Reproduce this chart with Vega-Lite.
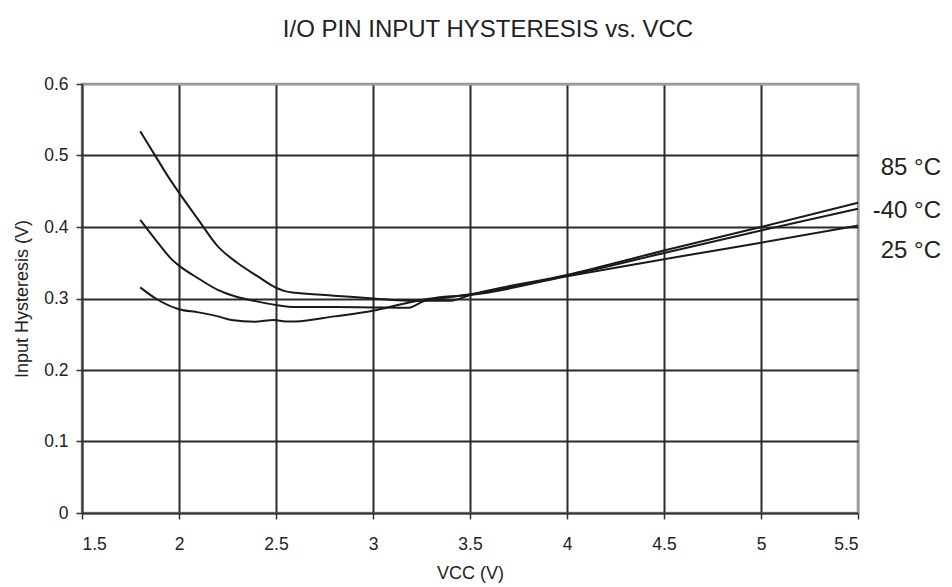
{
  "$schema": "https://vega.github.io/schema/vega-lite/v6.json",
  "width": 776,
  "height": 429,
  "autosize": "none",
  "padding": {"left": 82, "top": 84, "right": 94, "bottom": 74},
  "background": "white",
  "config": {
    "font": "Liberation Sans",
    "view": {"stroke": "#9a9a9a", "strokeWidth": 2.5},
    "axis": {
      "labelFont": "Liberation Sans",
      "titleFont": "Liberation Sans",
      "labelColor": "#222",
      "titleColor": "#222",
      "labelFontSize": 17.5,
      "titleFontSize": 18,
      "titleFontWeight": "normal",
      "domainColor": "#333",
      "domainWidth": 2,
      "tickColor": "#333",
      "tickWidth": 1.5,
      "tickSize": 6,
      "gridWidth": 2
    }
  },
  "title": {
    "text": "I/O PIN INPUT HYSTERESIS vs. VCC",
    "font": "Liberation Sans",
    "fontSize": 24,
    "fontWeight": "normal",
    "color": "#222",
    "anchor": "middle",
    "dx": 18,
    "offset": 33
  },
  "datasets": {
    "curves": [
      {"series": "A", "v": 1.8, "h": 0.534},
      {"series": "A", "v": 1.87, "h": 0.503},
      {"series": "A", "v": 1.95, "h": 0.468},
      {"series": "A", "v": 2.0, "h": 0.448},
      {"series": "A", "v": 2.1, "h": 0.41},
      {"series": "A", "v": 2.2, "h": 0.373},
      {"series": "A", "v": 2.3, "h": 0.35},
      {"series": "A", "v": 2.4, "h": 0.332},
      {"series": "A", "v": 2.5, "h": 0.315},
      {"series": "A", "v": 2.55, "h": 0.31},
      {"series": "A", "v": 2.6, "h": 0.308},
      {"series": "A", "v": 2.8, "h": 0.304},
      {"series": "A", "v": 3.0, "h": 0.3},
      {"series": "A", "v": 3.1, "h": 0.298},
      {"series": "A", "v": 3.2, "h": 0.297},
      {"series": "A", "v": 3.3, "h": 0.297},
      {"series": "A", "v": 3.4, "h": 0.297},
      {"series": "A", "v": 3.5, "h": 0.305},
      {"series": "A", "v": 4.0, "h": 0.333},
      {"series": "A", "v": 4.5, "h": 0.367},
      {"series": "A", "v": 5.0, "h": 0.4},
      {"series": "A", "v": 5.5, "h": 0.434},
      {"series": "B", "v": 1.8, "h": 0.41},
      {"series": "B", "v": 1.9, "h": 0.375},
      {"series": "B", "v": 1.965, "h": 0.354},
      {"series": "B", "v": 2.0, "h": 0.346},
      {"series": "B", "v": 2.1, "h": 0.328},
      {"series": "B", "v": 2.2, "h": 0.312},
      {"series": "B", "v": 2.3, "h": 0.302},
      {"series": "B", "v": 2.4, "h": 0.296},
      {"series": "B", "v": 2.5, "h": 0.291},
      {"series": "B", "v": 2.6, "h": 0.288},
      {"series": "B", "v": 2.8, "h": 0.288},
      {"series": "B", "v": 3.0, "h": 0.2875},
      {"series": "B", "v": 3.18, "h": 0.287},
      {"series": "B", "v": 3.26, "h": 0.296},
      {"series": "B", "v": 3.4, "h": 0.302},
      {"series": "B", "v": 3.5, "h": 0.306},
      {"series": "B", "v": 4.0, "h": 0.332},
      {"series": "B", "v": 4.5, "h": 0.3636},
      {"series": "B", "v": 5.0, "h": 0.395},
      {"series": "B", "v": 5.5, "h": 0.4256},
      {"series": "C", "v": 1.8, "h": 0.3156},
      {"series": "C", "v": 1.88, "h": 0.3},
      {"series": "C", "v": 2.0, "h": 0.285},
      {"series": "C", "v": 2.1, "h": 0.2806},
      {"series": "C", "v": 2.2, "h": 0.275},
      {"series": "C", "v": 2.27, "h": 0.27},
      {"series": "C", "v": 2.39, "h": 0.2676},
      {"series": "C", "v": 2.49, "h": 0.27},
      {"series": "C", "v": 2.55, "h": 0.268},
      {"series": "C", "v": 2.6, "h": 0.268},
      {"series": "C", "v": 2.8, "h": 0.275},
      {"series": "C", "v": 3.0, "h": 0.283},
      {"series": "C", "v": 3.18, "h": 0.294},
      {"series": "C", "v": 3.3, "h": 0.3},
      {"series": "C", "v": 3.4, "h": 0.303},
      {"series": "C", "v": 3.5, "h": 0.305},
      {"series": "C", "v": 4.0, "h": 0.331},
      {"series": "C", "v": 4.5, "h": 0.355},
      {"series": "C", "v": 5.0, "h": 0.378},
      {"series": "C", "v": 5.5, "h": 0.402}
    ],
    "labels": [
      {"label": "85 °C", "v": 5.5, "h": 0.4825},
      {"label": "-40 °C", "v": 5.5, "h": 0.4218},
      {"label": "25 °C", "v": 5.5, "h": 0.3659}
    ]
  },
  "layer": [
    {
      "data": {"name": "curves"},
      "mark": {"type": "line", "color": "#1a1a1a", "strokeWidth": 2, "interpolate": "monotone"},
      "encoding": {
        "x": {
          "field": "v", "type": "quantitative",
          "scale": {"domain": [1.5, 5.5], "nice": false, "zero": false},
          "axis": {
            "title": "VCC (V)",
            "values": [1.5, 2, 2.5, 3, 3.5, 4, 4.5, 5, 5.5],
            "format": "~g",
            "labelPadding": 16,
            "titlePadding": 12,
            "grid": true,
            "gridColor": {"condition": {"test": "datum.value >= 5.5 || datum.value <= 1.5", "value": "#9a9a9a"}, "value": "#2a2a2a"}
          }
        },
        "y": {
          "field": "h", "type": "quantitative",
          "scale": {"domain": [0, 0.6], "nice": false},
          "axis": {
            "title": "Input Hysteresis (V)",
            "values": [0, 0.1, 0.2, 0.3, 0.4, 0.5, 0.6],
            "format": "~g",
            "labelPadding": 8,
            "titlePadding": 12,
            "grid": true,
            "gridColor": {"condition": {"test": "datum.value >= 0.6 || datum.value <= 0", "value": "#9a9a9a"}, "value": "#2a2a2a"}
          }
        },
        "detail": {"field": "series"}
      }
    },
    {
      "data": {"name": "labels"},
      "mark": {"type": "text", "align": "right", "baseline": "middle", "dx": 83, "fontSize": 24, "color": "#222", "font": "Liberation Sans"},
      "encoding": {
        "x": {"field": "v", "type": "quantitative"},
        "y": {"field": "h", "type": "quantitative"},
        "text": {"field": "label"}
      }
    }
  ]
}
